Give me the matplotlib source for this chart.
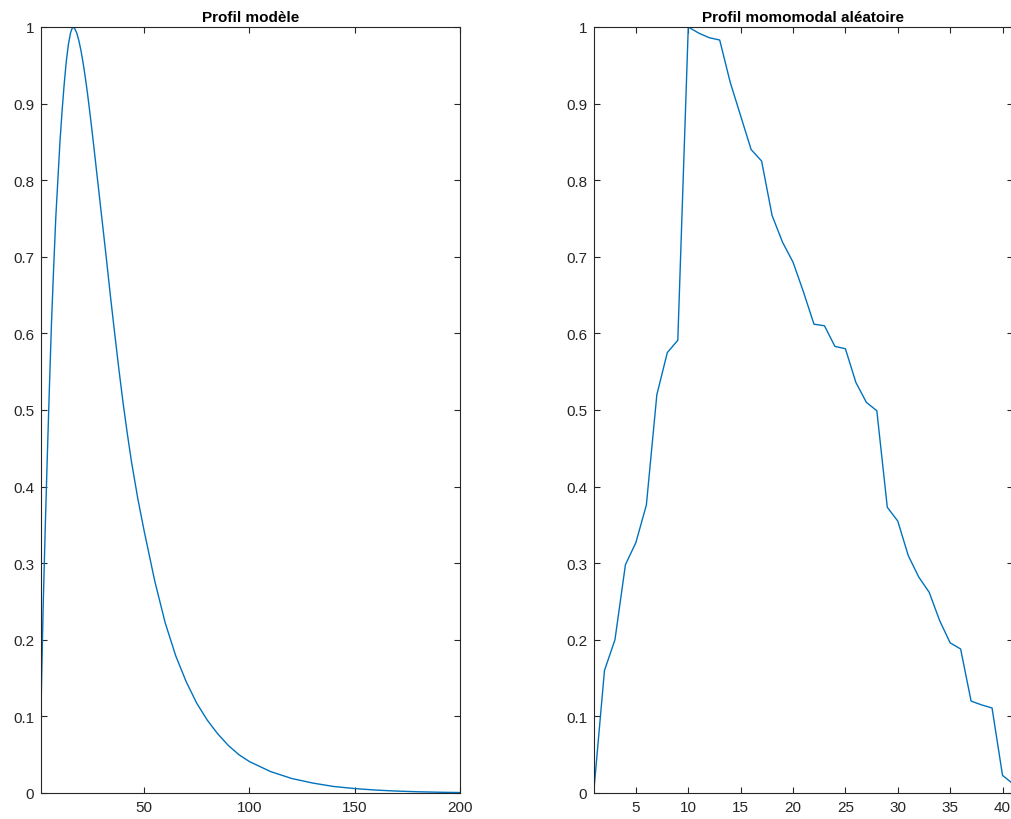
import matplotlib
matplotlib.use('Agg')
import matplotlib.pyplot as plt

# Profil modèle
model_x = [1, 2, 3, 4, 5, 6, 7, 8, 9, 10, 11, 12, 13, 14, 15, 16, 17, 18, 19, 20,
           21, 22, 23, 24, 25, 26, 28, 30, 32, 34, 36, 38, 40, 42, 44, 47, 50,
           55, 60, 65, 70, 75, 80, 85, 90, 95, 100, 110, 120, 130, 140, 150,
           160, 170, 180, 190, 200]
model_y = [0.11, 0.24, 0.345, 0.44, 0.53, 0.615, 0.685, 0.75, 0.80, 0.85, 0.89,
           0.925, 0.955, 0.977, 0.992, 1.0, 0.998, 0.992, 0.982, 0.969,
           0.953, 0.935, 0.915, 0.893, 0.87, 0.846, 0.797, 0.748, 0.699, 0.648,
           0.600, 0.553, 0.509, 0.469, 0.432, 0.384, 0.342,
           0.277, 0.222, 0.179, 0.145, 0.117, 0.095, 0.077, 0.062, 0.050, 0.041,
           0.028, 0.019, 0.013, 0.0085, 0.0058, 0.0038, 0.0025, 0.0016, 0.001,
           0.0006]

# Profil momomodal aléatoire
rand_x = list(range(1, 42))
rand_y = [0.005, 0.16, 0.2, 0.298, 0.327, 0.376, 0.52, 0.575, 0.591, 1.0,
          0.992, 0.986, 0.983, 0.928, 0.884, 0.84, 0.825, 0.754, 0.719, 0.693,
          0.654, 0.612, 0.61, 0.583, 0.58, 0.536, 0.51, 0.499, 0.373, 0.355,
          0.31, 0.282, 0.262, 0.225, 0.196, 0.188, 0.12, 0.115, 0.111, 0.023,
          0.012]

y_ticks = [0, 0.1, 0.2, 0.3, 0.4, 0.5, 0.6, 0.7, 0.8, 0.9, 1]
y_labels = ['0', '0.1', '0.2', '0.3', '0.4', '0.5', '0.6', '0.7', '0.8', '0.9', '1']

plt.rcParams['font.family'] = ['Liberation Sans', 'DejaVu Sans']
line_color = '#0072BD'
axis_color = '#262626'

fig = plt.figure(figsize=(10.11, 8.2), dpi=100)

W, H = 1011, 820
ax1 = fig.add_axes([41 / W, 26 / H, 419 / W, 766 / H])
ax2 = fig.add_axes([594 / W, 26 / H, 419 / W, 766 / H])


def style_axes(ax, xlim, xticks, title):
    ax.set_xlim(xlim)
    ax.set_ylim(0, 1)
    ax.set_xticks(xticks)
    ax.set_xticklabels([str(t) for t in xticks])
    ax.set_yticks(y_ticks)
    ax.set_yticklabels(y_labels)
    ax.tick_params(direction='in', top=True, right=True, length=4, width=0.8,
                   labelsize=11, colors=axis_color, pad=5)
    for s in ax.spines.values():
        s.set_color(axis_color)
        s.set_linewidth(0.8)
    ax.set_title(title, fontsize=11, fontweight='bold', color='black', pad=4)


ax1.plot(model_x, model_y, color=line_color, lw=1.0)
style_axes(ax1, (1, 200), [50, 100, 150, 200], 'Profil modèle')

ax2.plot(rand_x, rand_y, color=line_color, lw=1.0)
style_axes(ax2, (1, 41), [5, 10, 15, 20, 25, 30, 35, 40], 'Profil momomodal aléatoire')

fig.savefig('out.png', dpi=100)
